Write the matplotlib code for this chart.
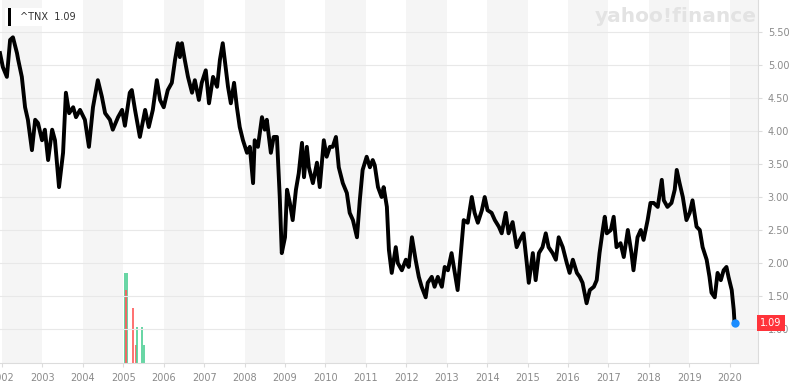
import matplotlib
matplotlib.use("Agg")
import matplotlib.pyplot as plt
from matplotlib.patches import Rectangle

# 10-year treasury yield (^TNX), decimal years
years = [
    2001.95, 2002.02, 2002.12, 2002.20, 2002.27, 2002.37, 2002.40, 2002.49, 2002.57, 2002.64,
    2002.74, 2002.82, 2002.89, 2002.99, 2003.06, 2003.14, 2003.24, 2003.31, 2003.41, 2003.51,
    2003.58, 2003.66, 2003.76, 2003.83, 2003.93, 2004.05, 2004.15, 2004.25, 2004.37, 2004.47,
    2004.55, 2004.67, 2004.74, 2004.87, 2004.97, 2005.04, 2005.16, 2005.21, 2005.29, 2005.41,
    2005.54, 2005.63, 2005.73, 2005.83, 2005.91, 2006.00, 2006.10, 2006.20, 2006.28, 2006.35,
    2006.40, 2006.45, 2006.52, 2006.60, 2006.70, 2006.77, 2006.87, 2006.94, 2007.04, 2007.12,
    2007.22, 2007.32, 2007.39, 2007.46, 2007.51, 2007.59, 2007.66, 2007.74, 2007.81, 2007.88,
    2007.96, 2008.06, 2008.13, 2008.21, 2008.25, 2008.33, 2008.43, 2008.50, 2008.55, 2008.65,
    2008.72, 2008.80, 2008.87, 2008.92, 2009.00, 2009.05, 2009.12, 2009.19, 2009.27, 2009.34,
    2009.42, 2009.47, 2009.54, 2009.59, 2009.69, 2009.79, 2009.86, 2009.96, 2010.03, 2010.11,
    2010.18, 2010.26, 2010.33, 2010.43, 2010.53, 2010.60, 2010.68, 2010.78, 2010.85, 2010.92,
    2011.02, 2011.10, 2011.17, 2011.22, 2011.30, 2011.39, 2011.44, 2011.52, 2011.57, 2011.64,
    2011.74, 2011.79, 2011.89, 2011.99, 2012.06, 2012.14, 2012.23, 2012.31, 2012.38, 2012.48,
    2012.53, 2012.63, 2012.70, 2012.78, 2012.88, 2012.95, 2013.03, 2013.12, 2013.20, 2013.27,
    2013.35, 2013.42, 2013.52, 2013.57, 2013.62, 2013.69, 2013.77, 2013.87, 2013.94, 2014.01,
    2014.11, 2014.19, 2014.29, 2014.36, 2014.46, 2014.53, 2014.63, 2014.73, 2014.81, 2014.90,
    2014.98, 2015.03, 2015.13, 2015.20, 2015.28, 2015.37, 2015.45, 2015.52, 2015.62, 2015.70,
    2015.77, 2015.87, 2015.97, 2016.04, 2016.12, 2016.22, 2016.29, 2016.36, 2016.46, 2016.54,
    2016.64, 2016.71, 2016.78, 2016.86, 2016.91, 2016.96, 2017.06, 2017.13, 2017.20, 2017.30,
    2017.38, 2017.48, 2017.57, 2017.62, 2017.72, 2017.80, 2017.87, 2017.97, 2018.04, 2018.12,
    2018.22, 2018.32, 2018.37, 2018.46, 2018.56, 2018.64, 2018.69, 2018.76, 2018.84, 2018.93,
    2019.01, 2019.08, 2019.18, 2019.26, 2019.33, 2019.43, 2019.50, 2019.55, 2019.63, 2019.70,
    2019.78, 2019.85, 2019.92, 2019.97, 2020.05, 2020.10, 2020.12,
]
yields = [
    5.18, 4.97, 4.82, 5.38, 5.42, 5.18, 5.08, 4.82, 4.36, 4.17,
    3.71, 4.17, 4.12, 3.86, 4.02, 3.56, 4.02, 3.86, 3.15, 3.67,
    4.58, 4.27, 4.36, 4.21, 4.32, 4.17, 3.76, 4.36, 4.77, 4.52,
    4.27, 4.17, 4.02, 4.21, 4.32, 4.08, 4.58, 4.62, 4.32, 3.91,
    4.32, 4.06, 4.32, 4.77, 4.47, 4.36, 4.62, 4.73, 5.08, 5.33,
    5.12, 5.33, 5.08, 4.82, 4.58, 4.77, 4.47, 4.73, 4.92, 4.42,
    4.82, 4.67, 5.08, 5.33, 5.08, 4.67, 4.42, 4.73, 4.36, 4.06,
    3.86, 3.67, 3.76, 3.21, 3.86, 3.76, 4.21, 4.02, 4.17, 3.67,
    3.91, 3.91, 3.00, 2.15, 2.39, 3.11, 2.91, 2.65, 3.11, 3.36,
    3.82, 3.30, 3.76, 3.45, 3.21, 3.52, 3.15, 3.86, 3.61, 3.76,
    3.76, 3.91, 3.45, 3.21, 3.06, 2.76, 2.65, 2.39, 2.95, 3.41,
    3.61, 3.45, 3.56, 3.48, 3.15, 3.00, 3.15, 2.85, 2.20, 1.85,
    2.24, 2.00, 1.89, 2.05, 1.94, 2.39, 2.05, 1.79, 1.64, 1.48,
    1.70, 1.79, 1.64, 1.79, 1.64, 1.94, 1.89, 2.15, 1.85, 1.59,
    2.15, 2.65, 2.61, 2.80, 3.00, 2.76, 2.61, 2.80, 3.00, 2.80,
    2.76, 2.65, 2.55, 2.45, 2.76, 2.45, 2.62, 2.24, 2.35, 2.45,
    2.00, 1.70, 2.15, 1.74, 2.15, 2.24, 2.45, 2.24, 2.15, 2.05,
    2.39, 2.24, 2.00, 1.85, 2.05, 1.85, 1.79, 1.70, 1.39, 1.59,
    1.64, 1.74, 2.15, 2.50, 2.70, 2.45, 2.50, 2.70, 2.24, 2.30,
    2.09, 2.50, 2.15, 1.89, 2.39, 2.50, 2.35, 2.65, 2.91, 2.91,
    2.85, 3.26, 2.95, 2.85, 2.91, 3.11, 3.41, 3.21, 3.00, 2.65,
    2.76, 2.95, 2.55, 2.50, 2.24, 2.05, 1.79, 1.55, 1.48, 1.85,
    1.74, 1.89, 1.94, 1.79, 1.59, 1.29, 1.09,
]

# stray volume bars near 2005
vol_years = [2005.05, 2005.10, 2005.07, 2005.24, 2005.31, 2005.34, 2005.46, 2005.51]
vol_values = [90, 90, 73, 55, 18, 36, 36, 18]
vol_up = [True, True, False, False, False, True, True, True]

year_ticks = list(range(2002, 2021))
price_ticks = [1.0, 1.5, 2.0, 2.5, 3.0, 3.5, 4.0, 4.5, 5.0, 5.5]
last_value = 1.09

GRAY_TXT = "#8a8a8a"
GRID = "#e8e8e8"

fig = plt.figure(figsize=(8, 3.86), dpi=100)
ax = fig.add_axes([0.0, 0.0596, 0.9475, 0.9404])

x_min, x_max = 2001.95, 2020.70
ax.set_xlim(x_min, x_max)
ax.set_ylim(0.485, 5.985)

# alternating year bands
for y in year_ticks[::2]:
    ax.axvspan(y, min(y + 1, x_max), color="#f5f5f5", zorder=0, lw=0)

for p in price_ticks:
    ax.axhline(p, color=GRID, lw=0.8, zorder=1)

# volume on a hidden twin axis
vax = ax.twinx()
vax.set_ylim(0, 363)
vax.bar(vol_years, vol_values, width=0.045,
        color=["#4fcf95" if u else "#ff5a5a" for u in vol_up], alpha=0.85, zorder=2)
vax.axis("off")

ax.set_zorder(vax.get_zorder() + 1)
ax.patch.set_visible(False)

ax.plot(years, yields, color="black", lw=2.8, solid_joinstyle="round", zorder=3)
ax.plot([years[-1]], [yields[-1]], "o", color="#1a8cff", ms=5, zorder=4)

# axes styling
for s in ["top", "left"]:
    ax.spines[s].set_visible(False)
ax.spines["right"].set_color("#dcdcdc")
ax.spines["bottom"].set_color("#dcdcdc")
ax.yaxis.tick_right()
ax.set_yticks(price_ticks)
ax.set_yticklabels([f"{p:.2f}" for p in price_ticks])
ax.set_xticks(year_ticks)
ax.set_xticklabels([str(y) for y in year_ticks])
ax.tick_params(axis="both", colors="#dcdcdc", labelcolor=GRAY_TXT, labelsize=7,
               length=3, width=0.8)
ax.tick_params(axis="y", pad=4)
ax.tick_params(axis="x", pad=4)

# last price flag on right axis (covers the 1.00 label like the original)
ax.text(1.003, last_value, f"{last_value:.2f}", transform=ax.get_yaxis_transform(),
        ha="left", va="center", fontsize=7, color="white", zorder=10, clip_on=False,
        bbox=dict(boxstyle="square,pad=0.35", fc="#ff333a", ec="none"))

# legend box top-left
fig.patches.append(Rectangle((5 / 800, 1 - 26 / 386), 62 / 800, 18 / 386,
                             transform=fig.transFigure, fc="white", ec="none", zorder=5))
fig.patches.append(Rectangle((8 / 800, 1 - 26 / 386), 3 / 800, 18 / 386,
                             transform=fig.transFigure, fc="black", ec="none", zorder=6))
fig.text(20 / 800, 1 - 17 / 386, "^TNX  1.09", fontsize=7, color="#333333",
         va="center", ha="left", zorder=7)

# watermark
fig.text(676 / 800, 1 - 16 / 386, "yahoo!finance", fontsize=14.5, fontweight="bold",
         color="#e3e3e3", ha="center", va="center", zorder=1)

fig.savefig("out.png", dpi=100, facecolor="white")
